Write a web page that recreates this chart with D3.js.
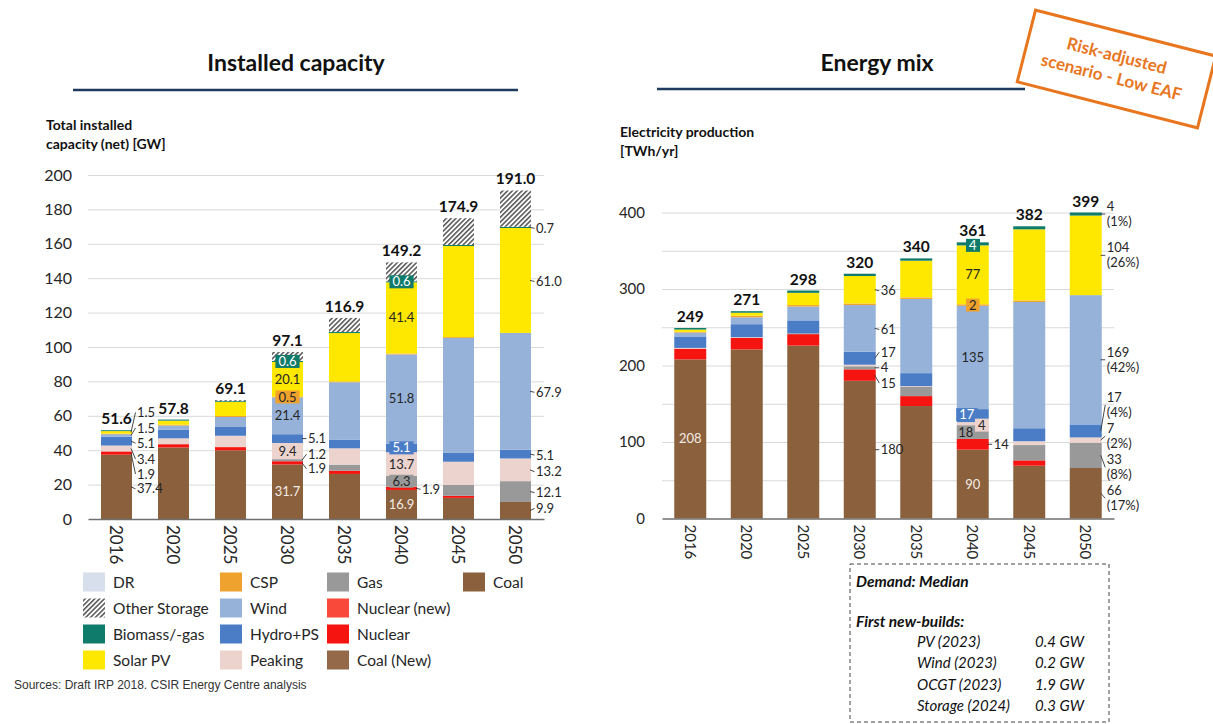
<!DOCTYPE html>
<html>
<head>
<meta charset="utf-8">
<script src="https://cdn.jsdelivr.net/npm/d3@7"></script>
<style>
  html, body { margin: 0; padding: 0; background: #fff; }
  svg { display: block; font-family: Lato, "Open Sans", sans-serif; }
</style>
</head>
<body>
<svg id="chart" width="1213" height="724"></svg>
<script>
// ---------- data ----------
const years = ["2016", "2020", "2025", "2030", "2035", "2040", "2045", "2050"];

// Installed capacity (net), GW
const capCoal       = [37.4, 41.6, 39.9, 31.7, 26.2, 16.9, 12.3,  9.9];
const capCoalNew    = [0, 0, 0, 0, 0, 0, 0, 0];
const capNuclear    = [ 1.9,  1.9,  1.9,  1.9,  1.9,  1.9,  1.2,  0.0];
const capNuclearNew = [0, 0, 0, 0, 0, 0, 0, 0];
const capGas        = [ 0.0,  0.0,  0.0,  1.2,  3.5,  6.3,  6.3, 12.1];
const capPeaking    = [ 3.4,  3.4,  6.6,  9.4,  9.5, 13.7, 13.5, 13.2];
const capHydro      = [ 5.1,  5.1,  5.1,  5.1,  5.1,  5.1,  5.1,  5.1];
const capWind       = [ 1.5,  2.3,  5.8, 21.4, 33.3, 51.8, 66.9, 67.9];
const capCSP        = [ 0.3,  0.5,  0.6,  0.5,  0.5,  0.5,  0.5,  0.0];
const capPV         = [ 1.5,  2.4,  8.1, 20.1, 28.1, 41.4, 52.9, 61.0];
const capBiomass    = [ 0.5,  0.6,  0.5,  0.6,  0.6,  0.6,  0.6,  0.7];
const capStorage    = [ 0.0,  0.0,  0.6,  5.2,  8.2, 11.0, 15.6, 21.1];
const capDR         = [0, 0, 0, 0, 0, 0, 0, 0];
const capTotal      = [51.6, 57.8, 69.1, 97.1, 116.9, 149.2, 174.9, 191.0];

// Electricity production, TWh/yr
const genCoal    = [208, 221, 226, 180, 147,  90,  69,  66];
const genNuclear = [ 14,  15,  15,  15,  13,  14,   7,   0];
const genGas     = [  0,   0,   1,   4,  12,  18,  20,  33];
const genPeaking = [  1,   1,   0,   2,   1,   4,   5,   7];
const genHydro   = [ 15,  17,  17,  17,  17,  17,  17,  17];
const genWind    = [  5,   9,  18,  61,  97, 135, 165, 169];
const genCSP     = [  1,   2,   2,   2,   2,   2,   2,   0];
const genPV      = [  3,   4,  16,  36,  48,  77,  93, 104];
const genBiomass = [  2,   2,   3,   3,   3,   4,   4,   4];
const genTotal   = [249, 271, 298, 320, 340, 361, 382, 399];

const capTicks = [0, 20, 40, 60, 80, 100, 120, 140, 160, 180, 200];
const genTicks = [0, 100, 200, 300, 400];
const genGrid  = [50, 100, 150, 200, 250, 300, 350, 400];

// ---------- technologies (stack order bottom -> top) ----------
const techs = [
  { key: "coal",       name: "Coal",          color: "#8B603D" },
  { key: "coalNew",    name: "Coal (New)",    color: "#94694A" },
  { key: "nuclear",    name: "Nuclear",       color: "#F5140F" },
  { key: "nuclearNew", name: "Nuclear (new)", color: "#F9493A" },
  { key: "gas",        name: "Gas",           color: "#999999" },
  { key: "peaking",    name: "Peaking",       color: "#ECD3CE" },
  { key: "hydro",      name: "Hydro+PS",      color: "#4A7DC6" },
  { key: "wind",       name: "Wind",          color: "#96B2D9" },
  { key: "csp",        name: "CSP",           color: "#F0A22E" },
  { key: "pv",         name: "Solar PV",      color: "#FFE800" },
  { key: "biomass",    name: "Biomass/-gas",  color: "#0E7B6B" },
  { key: "storage",    name: "Other Storage", color: "url(#hatch)" },
  { key: "dr",         name: "DR",            color: "#D7DFEC" }
];
const colorOf = Object.fromEntries(techs.map(t => [t.key, t.color]));

const capSeries = {
  coal: capCoal, coalNew: capCoalNew, nuclear: capNuclear, nuclearNew: capNuclearNew,
  gas: capGas, peaking: capPeaking, hydro: capHydro, wind: capWind, csp: capCSP,
  pv: capPV, biomass: capBiomass, storage: capStorage, dr: capDR
};
const genSeries = {
  coal: genCoal, nuclear: genNuclear, gas: genGas, peaking: genPeaking, hydro: genHydro,
  wind: genWind, csp: genCSP, pv: genPV, biomass: genBiomass
};

const capRows = years.map((yr, i) => {
  const r = { year: yr };
  for (const k in capSeries) r[k] = capSeries[k][i];
  return r;
});
const genRows = years.map((yr, i) => {
  const r = { year: yr };
  for (const k in genSeries) r[k] = genSeries[k][i];
  return r;
});

// value annotations: [year index, series, mode, dy, dx]
const capLabels = [
  [0, "pv", "out", -20], [0, "wind", "out", -7.5], [0, "hydro", "out", 2],
  [0, "peaking", "out", 10.5], [0, "nuclear", "out", 21], [0, "coal", "out", 2],
  [3, "biomass", "boxW"], [3, "pv", "in"], [3, "csp", "box"], [3, "wind", "in"],
  [3, "hydro", "out", 0], [3, "peaking", "in"], [3, "gas", "out", -6],
  [3, "nuclear", "out", 6], [3, "coal", "inW"],
  [5, "biomass", "boxW"], [5, "pv", "in"], [5, "wind", "in"], [5, "hydro", "boxW"],
  [5, "peaking", "in"], [5, "gas", "box"], [5, "nuclear", "out", 1], [5, "coal", "inW"],
  [7, "biomass", "out", 1], [7, "pv", "out", 1], [7, "wind", "out", 1],
  [7, "hydro", "out", 1], [7, "peaking", "out", 2], [7, "gas", "out", 1], [7, "coal", "out", -2]
];
const genLabels = [
  [0, "coal", "inW"],
  [3, "pv", "out", 1], [3, "wind", "out", 1], [3, "hydro", "out", -6],
  [3, "gas", "out", 0], [3, "nuclear", "out", 8], [3, "coal", "out", 0],
  [5, "biomass", "boxW", 1.5], [5, "pv", "in"], [5, "csp", "box"], [5, "wind", "in"],
  [5, "hydro", "boxW", -1, -6], [5, "peaking", "box", 1.5, 9], [5, "gas", "in", 0, -7],
  [5, "nuclear", "out", 0], [5, "coal", "inW"],
  [7, "biomass", "pct", 0], [7, "pv", "pct", 0], [7, "wind", "pct", 0],
  [7, "hydro", "pct", -26], [7, "peaking", "pct", -4], [7, "gas", "pct", 12], [7, "coal", "pct", 5]
];

// ---------- drawing ----------
const svg = d3.select("#chart");
const defs = svg.append("defs");
const hatch = defs.append("pattern")
  .attr("id", "hatch").attr("patternUnits", "userSpaceOnUse")
  .attr("width", 3.4).attr("height", 3.4)
  .attr("patternTransform", "rotate(45)");
hatch.append("rect").attr("width", 3.4).attr("height", 3.4).attr("fill", "#fff");
hatch.append("line").attr("x1", 0.8).attr("x2", 0.8).attr("y1", 0).attr("y2", 3.4)
  .attr("stroke", "#262626").attr("stroke-width", 1.2);

const TXT = "#262626";

function drawPanel(o) {
  const keys = o.keys;
  const x = d3.scaleBand().domain(years).range(o.xRange)
    .paddingInner(o.padInner).paddingOuter(o.padOuter);
  const y = d3.scaleLinear().domain(o.yDomain).range(o.yRange);
  const g = svg.append("g");
  const bw = x.bandwidth();

  // horizontal gridlines
  g.append("g").attr("transform", `translate(${o.xRange[0]},0)`)
    .call(d3.axisLeft(y).tickValues(o.grid).tickSize(-(o.xRange[1] - o.xRange[0])).tickFormat(""))
    .call(a => a.select(".domain").remove())
    .call(a => a.selectAll("line").attr("stroke", "#D9D9D9").attr("stroke-width", 1));

  // y tick labels
  g.append("g").attr("transform", `translate(${o.tickX},0)`)
    .call(d3.axisLeft(y).tickValues(o.ticks).tickSize(0).tickPadding(0))
    .call(a => a.select(".domain").remove())
    .attr("font-family", "Lato, sans-serif").attr("font-size", o.tickFont)
    .call(a => a.selectAll("text").attr("fill", TXT));

  // stacked bars
  const stacked = d3.stack().keys(keys)(o.rows);
  const byKey = Object.fromEntries(stacked.map(s => [s.key, s]));
  g.append("g").selectAll("g").data(stacked).join("g")
    .attr("fill", s => colorOf[s.key])
    .selectAll("rect").data(s => s.filter(d => d[1] > d[0])).join("rect")
    .attr("x", d => x(d.data.year))
    .attr("width", bw)
    .attr("y", d => y(d[1]))
    .attr("height", d => y(d[0]) - y(d[1]));

  // category axis
  const xa = g.append("g").attr("transform", `translate(0,${o.yRange[0]})`)
    .call(d3.axisBottom(x).tickSize(0).tickSizeOuter(0))
    .attr("font-family", "Lato, sans-serif").attr("font-size", o.xFont);
  xa.select(".domain").attr("stroke", "#6f6f6f").attr("stroke-width", 1.3);
  xa.selectAll("text")
    .attr("transform", "rotate(90)").attr("x", 6).attr("y", 0)
    .attr("dy", "0.36em").attr("text-anchor", "start").attr("fill", TXT);

  // totals
  g.append("g").selectAll("text").data(o.totals).join("text")
    .attr("x", (t, i) => x(years[i]) + bw / 2)
    .attr("y", t => y(t) - 6)
    .attr("text-anchor", "middle")
    .attr("font-weight", 700).attr("font-size", 15.5).attr("fill", "#111")
    .text(o.totalFmt);

  // value annotations
  const lg = g.append("g").attr("font-size", 13);
  o.labels.forEach(([i, key, mode, dy = 0, dx = 0]) => {
    const d = byKey[key][i];
    const v = d.data[key];
    const yc = y((d[0] + d[1]) / 2);
    const cx = x(years[i]) + bw / 2;
    const right = x(years[i]) + bw;
    const txt = o.fmt(v);
    if (mode === "out" || mode === "pct") {
      const lx = right + 5, ly = yc + dy;
      lg.append("line")
        .attr("x1", right - 1).attr("y1", yc).attr("x2", lx - 1.5).attr("y2", ly)
        .attr("stroke", "#333").attr("stroke-width", 0.9);
      if (mode === "out") {
        lg.append("text").attr("x", lx).attr("y", ly).attr("dy", "0.35em")
          .attr("fill", TXT).text(txt);
      } else {
        const pct = Math.round(v / o.totals[i] * 100) + "%";
        lg.append("text").attr("x", lx).attr("y", ly - 7.5).attr("dy", "0.35em")
          .attr("fill", TXT).text(txt);
        lg.append("text").attr("x", lx).attr("y", ly + 7.5).attr("dy", "0.35em")
          .attr("fill", TXT).text("(" + pct + ")");
      }
    } else {
      const tx = cx + dx, ty = yc + dy;
      if (mode === "box" || mode === "boxW") {
        const t = lg.append("text").attr("x", tx).attr("y", ty).attr("dy", "0.35em")
          .attr("text-anchor", "middle").text(txt);
        const bb = t.node().getBBox();
        lg.insert("rect", () => t.node())
          .attr("x", bb.x - 3).attr("y", ty - 6.5).attr("width", bb.width + 6).attr("height", 13)
          .attr("fill", colorOf[key]);
        t.attr("fill", mode === "boxW" ? "#fff" : TXT);
      } else {
        lg.append("text").attr("x", tx).attr("y", ty).attr("dy", "0.35em")
          .attr("text-anchor", "middle")
          .attr("fill", mode === "inW" ? "#F3ECE6" : TXT).text(txt);
      }
    }
  });
}

drawPanel({
  rows: capRows, keys: techs.map(t => t.key), totals: capTotal,
  xRange: [88, 544], padInner: 0.456, padOuter: 0.228,
  yDomain: [0, 200], yRange: [519, 175],
  ticks: capTicks, grid: capTicks.slice(1), tickX: 72, tickFont: 16, xFont: 17,
  totalFmt: d3.format(".1f"), fmt: d3.format(".1f"), labels: capLabels
});

drawPanel({
  rows: genRows, keys: techs.map(t => t.key).filter(k => k in genSeries), totals: genTotal,
  xRange: [662, 1114], padInner: 0.434, padOuter: 0.217,
  yDomain: [0, 400], yRange: [518.5, 212.5],
  ticks: genTicks, grid: genGrid, tickX: 645, tickFont: 15, xFont: 15,
  totalFmt: d3.format("d"), fmt: d3.format("d"), labels: genLabels
});

// ---------- titles ----------
const head = svg.append("g").attr("fill", "#111");
head.append("text").attr("x", 296).attr("y", 71).attr("text-anchor", "middle")
  .attr("font-weight", 700).attr("font-size", 23).text("Installed capacity");
head.append("text").attr("x", 877).attr("y", 71).attr("text-anchor", "middle")
  .attr("font-weight", 700).attr("font-size", 23).text("Energy mix");
head.append("line").attr("x1", 73).attr("x2", 518).attr("y1", 90).attr("y2", 90)
  .attr("stroke", "#1F3A5F").attr("stroke-width", 2.5);
head.append("line").attr("x1", 657).attr("x2", 1025).attr("y1", 89).attr("y2", 89)
  .attr("stroke", "#1F3A5F").attr("stroke-width", 2.5);

const yt = svg.append("g").attr("font-weight", 700).attr("font-size", 14).attr("fill", "#111");
yt.append("text").attr("x", 46).attr("y", 130).text("Total installed");
yt.append("text").attr("x", 46).attr("y", 149).text("capacity (net) [GW]");
yt.append("text").attr("x", 620).attr("y", 137).text("Electricity production");
yt.append("text").attr("x", 620).attr("y", 156).text("[TWh/yr]");

// ---------- legend ----------
const legendCols = [
  ["DR", "Other Storage", "Biomass/-gas", "Solar PV"],
  ["CSP", "Wind", "Hydro+PS", "Peaking"],
  ["Gas", "Nuclear (new)", "Nuclear", "Coal (New)"],
  ["Coal"]
];
const colX = [83, 220, 327, 463];
const rowY = [582, 608, 634, 660];
const byName = Object.fromEntries(techs.map(t => [t.name, t]));
const lgd = svg.append("g").attr("font-size", 15.5).attr("fill", TXT);
legendCols.forEach((col, c) => col.forEach((name, r) => {
  const t = byName[name];
  lgd.append("rect").attr("x", colX[c]).attr("y", rowY[r] - 9.5)
    .attr("width", 22).attr("height", 19).attr("fill", t.color);
  lgd.append("text").attr("x", colX[c] + 30).attr("y", rowY[r]).attr("dy", "0.36em").text(name);
}));

svg.append("text").attr("x", 14).attr("y", 689)
  .attr("font-family", "'Liberation Sans', Arial, sans-serif").attr("font-size", 12)
  .attr("fill", "#333").text("Sources: Draft IRP 2018. CSIR Energy Centre analysis");

// ---------- scenario notes box ----------
const box = svg.append("g").attr("fill", "#111");
box.append("rect").attr("x", 850).attr("y", 564).attr("width", 259).attr("height", 158)
  .attr("fill", "none").attr("stroke", "#444").attr("stroke-width", 1)
  .attr("stroke-dasharray", "4,3");
box.append("text").attr("x", 856).attr("y", 587).attr("font-weight", 700)
  .attr("font-style", "italic").attr("font-size", 15.5).text("Demand: Median");
box.append("text").attr("x", 856).attr("y", 627).attr("font-weight", 700)
  .attr("font-style", "italic").attr("font-size", 15.5).text("First new-builds:");
const builds = [["PV (2023)", "0.4 GW"], ["Wind (2023)", "0.2 GW"],
                ["OCGT (2023)", "1.9 GW"], ["Storage (2024)", "0.3 GW"]];
const buildY = [647, 668, 690, 711];
builds.forEach(([a, b], i) => {
  box.append("text").attr("x", 917).attr("y", buildY[i]).attr("font-style", "italic")
    .attr("font-size", 15).text(a);
  box.append("text").attr("x", 1035).attr("y", buildY[i]).attr("font-style", "italic")
    .attr("font-size", 15).text(b);
});

// ---------- scenario stamp ----------
const stamp = svg.append("g").attr("transform", "translate(1116.5,69) rotate(14.3)");
stamp.append("rect").attr("x", -93).attr("y", -37).attr("width", 186).attr("height", 74)
  .attr("fill", "#fff").attr("stroke", "#E8761E").attr("stroke-width", 3);
stamp.append("text").attr("x", -3).attr("y", -7).attr("text-anchor", "middle")
  .attr("font-weight", 700).attr("font-size", 17).attr("fill", "#E8761E").text("Risk-adjusted");
stamp.append("text").attr("x", -3).attr("y", 15).attr("text-anchor", "middle")
  .attr("font-weight", 700).attr("font-size", 17).attr("fill", "#E8761E").text("scenario - Low EAF");
</script>
</body>
</html>
